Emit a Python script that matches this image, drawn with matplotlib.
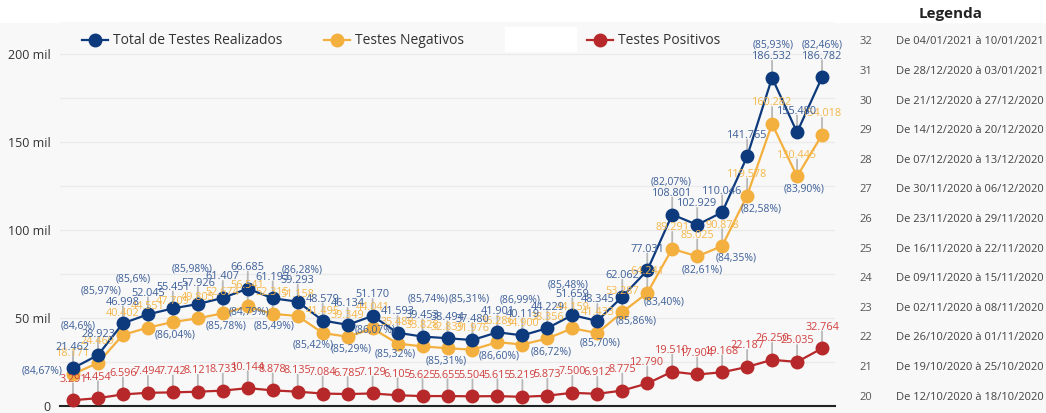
import matplotlib
matplotlib.use("Agg")
import matplotlib.pyplot as plt
from matplotlib.lines import Line2D
from matplotlib.patches import Rectangle

plt.rcParams['font.family'] = ['Open Sans', 'DejaVu Sans']

# dados semanais (semana 1..31 no eixo)
total = [21462, 28923, 46998, 52045, 55451, 57926, 61407, 66685, 61193, 59293,
         48579, 46134, 51170, 41593, 39453, 38494, 37480, 41901, 40119, 44229,
         51659, 48345, 62062, 77031, 108801, 102929, 110046, 141765, 186532, 155480, 186782]
negativos = [18171, 24469, 40402, 44551, 47709, 49805, 52674, 56541, 52315, 51158,
             41495, 39349, 44041, 35488, 33828, 32839, 31976, 36286, 34900, 38356,
             44159, 41433, 53287, 64241, 89291, 85025, 90878, 119578, 160282, 130445, 154018]
positivos = [3291, 4454, 6596, 7494, 7742, 8121, 8733, 10144, 8878, 8135,
             7084, 6785, 7129, 6105, 5625, 5655, 5504, 5615, 5219, 5873,
             7500, 6912, 8775, 12790, 19510, 17904, 19168, 22187, 26250, 25035, 32764]
percentuais = ["(84,67%)", "(84,6%)", "(85,97%)", "(85,6%)", "(86,04%)", "(85,98%)",
               "(85,78%)", "(84,79%)", "(85,49%)", "(86,28%)", "(85,42%)", "(85,29%)",
               "(86,07%)", "(85,32%)", "(85,74%)", "(85,31%)", "(85,31%)", "(86,60%)",
               "(86,99%)", "(86,72%)", "(85,48%)", "(85,70%)", "(85,86%)", "(83,40%)",
               "(82,07%)", "(82,61%)", "(84,35%)", "(82,58%)", "(85,93%)", "(83,90%)",
               "(82,46%)"]
# deslocamento dos percentuais em pixels (dx, dy) a partir do ponto azul
desloc_pct = [(-31, -3), (-20, 29), (-22, 32), (-15, 35), (2, -27), (-6, 35),
              (3, -28), (1, -23), (1, -28), (4, 32), (-10, -24), (3, -24),
              (2, -14), (-2, -21), (6, 38), (-1, -23), (-3, 41), (2, -24),
              (-2, 35), (4, -24), (-4, 30), (3, -22), (14, -24), (17, -32),
              (-1, 33), (5, -45), (14, -46), (14, -53), (1, 33), (7, -57), (0, 32)]

semanas_leg = list(range(32, 19, -1))
periodos = ["De 04/01/2021 à 10/01/2021", "De 28/12/2020 à 03/01/2021",
            "De 21/12/2020 à 27/12/2020", "De 14/12/2020 à 20/12/2020",
            "De 07/12/2020 à 13/12/2020", "De 30/11/2020 à 06/12/2020",
            "De 23/11/2020 à 29/11/2020", "De 16/11/2020 à 22/11/2020",
            "De 09/11/2020 à 15/11/2020", "De 02/11/2020 à 08/11/2020",
            "De 26/10/2020 à 01/11/2020", "De 19/10/2020 à 25/10/2020",
            "De 12/10/2020 à 18/10/2020"]

AZUL, AZUL_TXT = '#0d3a7c', '#3d5f98'
AMAR, AMAR_TXT = '#f4b03e', '#f5b84c'
VERM, VERM_TXT = '#b7282a', '#d0403e'
FUNDO = '#f8f8f8'

W, H = 1046, 413
fx = lambda px: px / W
fy = lambda py: 1 - py / H

def fmt(v):
    return f"{v:,}".replace(',', '.')

fig = plt.figure(figsize=(W / 100, H / 100), dpi=100, facecolor=FUNDO)
fig.add_artist(Rectangle((0, fy(22)), 1, 22 / H, transform=fig.transFigure,
                         color='white', zorder=-5))

ax = fig.add_axes([fx(60), fy(406), fx(835) - fx(60), (406 - 22) / H])
ax.set_facecolor(FUNDO)
x = list(range(len(total)))

for serie, cor, cor_txt in [(positivos, VERM, VERM_TXT), (negativos, AMAR, AMAR_TXT),
                            (total, AZUL, AZUL_TXT)]:
    ax.plot(x, serie, color=cor, lw=1.6, marker='o', ms=9, zorder=4, clip_on=False)
    for i, v in enumerate(serie):
        ax.annotate('', xy=(i, v), xytext=(0, 17), textcoords='offset pixels',
                    arrowprops=dict(arrowstyle='-', color='#b8b8b8', lw=1.3,
                                    shrinkA=0, shrinkB=0), zorder=2)
    for i, v in enumerate(serie):
        ax.annotate(fmt(v), xy=(i, v), xytext=(0, 21), textcoords='offset pixels',
                    ha='center', va='center', fontsize=7.8, color=cor_txt, zorder=6,
                    annotation_clip=False)

for i, (p, (dx, dy)) in enumerate(zip(percentuais, desloc_pct)):
    ax.annotate(p, xy=(i, total[i]), xytext=(dx, dy), textcoords='offset pixels',
                ha='center', va='center', fontsize=7.5, color=AZUL_TXT, zorder=6,
                annotation_clip=False)

ax.set_xlim(-0.52, 30.52)
ax.set_ylim(0, (406 - 22) / 0.00176)
ax.set_yticks([0, 50000, 100000, 150000, 200000])
ax.set_yticklabels(['0', '50 mil', '100 mil', '150 mil', '200 mil'])
ax.set_yticks([25000, 75000, 125000, 175000], minor=True)
ax.set_xticks([])
ax.tick_params(axis='y', which='both', length=0, pad=7, labelsize=9, labelcolor='#333333')
ax.grid(axis='y', which='both', color='#ebebeb', lw=1, zorder=0)
ax.set_axisbelow(True)
for s in ['top', 'right', 'left']:
    ax.spines[s].set_visible(False)
ax.spines['bottom'].set_color('#222222')
ax.spines['bottom'].set_linewidth(1.5)

# legenda superior
itens = [("Total de Testes Realizados", AZUL, 95), ("Testes Negativos", AMAR, 337),
         ("Testes Positivos", VERM, 600)]
for nome, cor, px in itens:
    fig.add_artist(Line2D([fx(px - 13), fx(px), fx(px + 13)], [fy(40)] * 3, color=cor,
                          lw=1.6, marker='o', ms=9, markevery=[1]))
    fig.text(fx(px + 18), fy(40), nome, fontsize=10, color='#333333', va='center')
fig.add_artist(Rectangle((fx(505), fy(51)), fx(576) - fx(505), 24 / H,
                         transform=fig.transFigure, color='white'))

# legenda lateral
fig.text(fx(951), fy(14), "Legenda", fontsize=11, fontweight='bold', ha='center',
         va='center', color='#222222')
for k, (s, p) in enumerate(zip(semanas_leg, periodos)):
    yy = 42 + k * (397 - 42) / 12
    fig.text(fx(866), fy(yy), str(s), fontsize=8, ha='center', va='center', color='#555555')
    fig.text(fx(896), fy(yy), p, fontsize=8, ha='left', va='center', color='#444444')

fig.savefig('out.png', dpi=100, facecolor=FUNDO)
